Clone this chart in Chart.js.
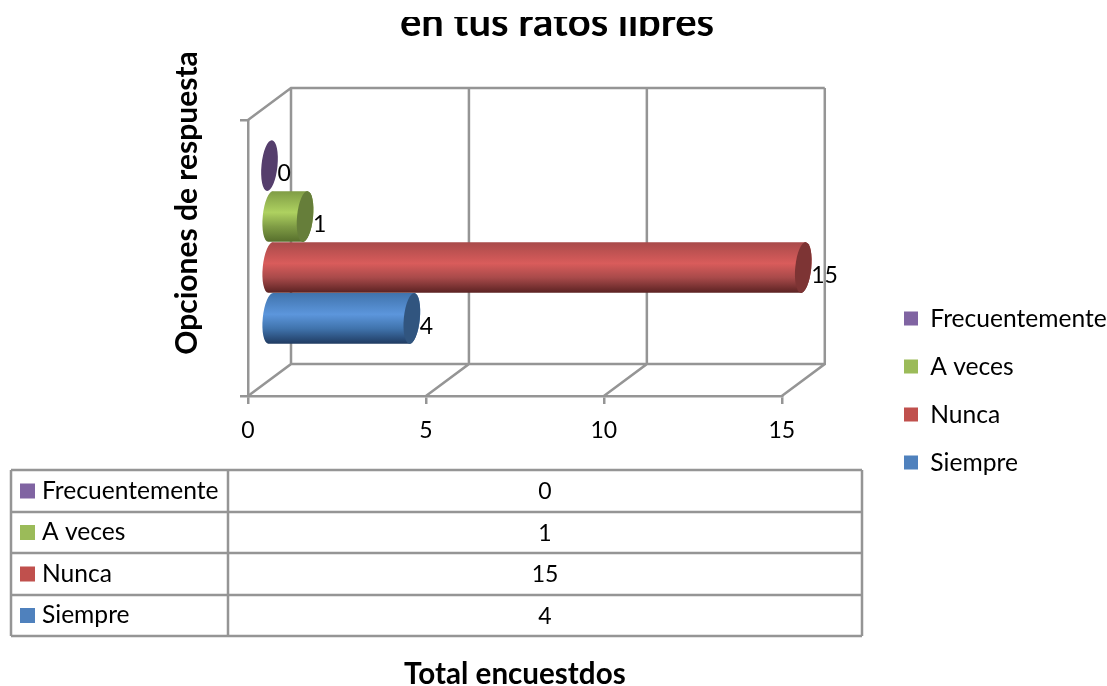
<!DOCTYPE html>
<html>
<head>
<meta charset="utf-8">
<style>
  html, body { margin: 0; padding: 0; background: #fff; overflow: hidden; }
  #wrap { position: relative; width: 1107px; height: 686px; }
</style>
<script src="https://cdn.jsdelivr.net/npm/chart.js@4/dist/chart.umd.min.js"></script>
</head>
<body>
<div id="wrap"><canvas id="chart" width="1107" height="686"></canvas></div>
<script>
const categories = ['Frecuentemente', 'A veces', 'Nunca', 'Siempre'];
const values = [0, 1, 15, 4];
const xTicks = [0, 5, 10, 15];
const chartTitle = 'en tus ratos libres';
const yTitle = 'Opciones de respuesta';
const xTitle = 'Total encuestdos';

const fontName = "Lato, 'Open Sans', sans-serif";
const grey = '#959595';
const lineW = 2.5;
const depth = { x: 43, y: -32 };   // back wall offset from the front plane

// legend colour, gradient stops (top, light, bottom), end cap
const colors = [
  { base: '#8064a2', top: '#5f4a7a', mid: '#8f70b5', low: '#3f3052', cap: '#553e6c' },
  { base: '#9bbb59', top: '#7f9c45', mid: '#aed160', low: '#566e2c', cap: '#667e3a' },
  { base: '#c0504d', top: '#a84a4a', mid: '#d95c5b', low: '#5a2222', cap: '#7d3434' },
  { base: '#4f81bd', top: '#4073ac', mid: '#5c96dc', low: '#1f3a60', cap: '#31557f' }
];

// 3D frame behind the bars
const framePlugin = {
  id: 'frame',
  beforeDatasetsDraw(chart) {
    const { ctx, scales: { x }, chartArea: a } = chart;
    const bx = a.left + depth.x, by = a.bottom + depth.y, ty = a.top + depth.y;
    ctx.save();
    ctx.strokeStyle = grey;
    ctx.lineWidth = lineW;
    ctx.beginPath();
    ctx.moveTo(a.left, a.top); ctx.lineTo(bx, ty);
    ctx.lineTo(x.getPixelForValue(15) + depth.x, ty);
    ctx.moveTo(bx, by); ctx.lineTo(x.getPixelForValue(15) + depth.x, by);
    xTicks.forEach(t => {
      const px = x.getPixelForValue(t);
      ctx.moveTo(px, a.bottom); ctx.lineTo(px + depth.x, by);
      ctx.lineTo(px + depth.x, ty);
    });
    ctx.stroke();
    ctx.restore();
  }
};

// Draws each bar element as a cylinder, half way into the depth
const cylinderPlugin = {
  id: 'cylinder',
  beforeDatasetDraw(chart, args) {
    const { ctx } = chart;
    const c = colors[args.index];
    args.meta.data.forEach(bar => {
      const x0 = bar.base + depth.x / 2;
      const x1 = bar.x + depth.x / 2;
      const cy = bar.y + depth.y / 2;
      const ry = bar.height / 2;
      const rx = 8, tilt = 0.1;
      if (x1 > x0) {
        const g = ctx.createLinearGradient(0, cy - ry, 0, cy + ry);
        g.addColorStop(0, c.top);
        g.addColorStop(0.42, c.mid);
        g.addColorStop(0.7, c.top);
        g.addColorStop(1, c.low);
        ctx.fillStyle = g;
        ctx.beginPath();
        ctx.ellipse(x0, cy, rx, ry, tilt, Math.PI / 2, Math.PI * 1.5);
        ctx.ellipse(x1, cy, rx, ry, tilt, -Math.PI / 2, Math.PI / 2);
        ctx.closePath();
        ctx.fill();
      }
      ctx.fillStyle = c.cap;
      ctx.beginPath();
      ctx.ellipse(x1, cy, rx, ry, tilt, 0, Math.PI * 2);
      ctx.fill();
    });
    return false;
  }
};

const labelPlugin = {
  id: 'labels',
  afterDatasetsDraw(chart) {
    const { ctx } = chart;
    ctx.save();
    ctx.fillStyle = '#000';
    ctx.font = '23px ' + fontName;
    ctx.textBaseline = 'middle';
    chart.data.datasets.forEach((ds, i) => {
      const bar = chart.getDatasetMeta(i).data[0];
      ctx.fillText(String(ds.data[0]), bar.x + depth.x / 2 + 8, bar.y + depth.y / 2 + 8);
    });
    ctx.restore();
  }
};

// Data table under the chart and the rotated axis title
const tablePlugin = {
  id: 'table',
  afterDraw(chart) {
    const { ctx } = chart;
    const rows = [470, 512, 553, 595, 636];
    ctx.save();
    // the source picture is cropped through the title
    ctx.fillStyle = '#fff';
    ctx.fillRect(0, 0, chart.width, 17);
    ctx.strokeStyle = grey;
    ctx.lineWidth = lineW;
    ctx.beginPath();
    rows.forEach(y => { ctx.moveTo(11, y); ctx.lineTo(862, y); });
    [11, 228, 862].forEach(x => { ctx.moveTo(x, 470); ctx.lineTo(x, 636); });
    ctx.stroke();
    ctx.textBaseline = 'middle';
    categories.forEach((name, i) => {
      const mid = (rows[i] + rows[i + 1]) / 2;
      ctx.fillStyle = colors[i].base;
      ctx.fillRect(20, mid - 7.5, 15, 15);
      ctx.fillStyle = '#000';
      ctx.textAlign = 'left';
      ctx.font = '24.6px ' + fontName;
      ctx.fillText(name, 42, mid);
      ctx.textAlign = 'center';
      ctx.font = '23px ' + fontName;
      ctx.fillText(String(values[i]), 545, mid + 1);
    });
    ctx.translate(187, 203);
    ctx.rotate(-Math.PI / 2);
    ctx.font = 'bold 30px ' + fontName;
    ctx.textAlign = 'center';
    ctx.fillText(yTitle, 0, 0);
    ctx.restore();
  }
};

// Moves the legend down beside the table, away from the plot centre
const legendPlugin = {
  id: 'legendPlace',
  afterLayout(chart) {
    const lg = chart.legend;
    const w = lg.width, h = lg.height;
    lg.left = 904 - lg.options.labels.padding;
    lg.right = lg.left + w;
    lg.top = 276 - lg.options.labels.padding;
    lg.bottom = lg.top + h;
  }
};

new Chart(document.getElementById('chart'), {
  type: 'bar',
  data: {
    labels: [''],
    datasets: categories.map((name, i) => ({
      label: name,
      data: [values[i]],
      backgroundColor: colors[i].base,
      barPercentage: 1,
      categoryPercentage: 0.739
    }))
  },
  plugins: [framePlugin, cylinderPlugin, labelPlugin, tablePlugin, legendPlugin],
  options: {
    indexAxis: 'y',
    responsive: false,
    animation: false,
    layout: { padding: { top: 0, left: 7, right: 0, bottom: 0 } },
    plugins: {
      tooltip: { enabled: false },
      title: {
        display: true,
        text: chartTitle,
        color: '#000',
        font: { family: fontName, size: 40, weight: 'bold' },
        padding: { top: -1, bottom: 73 }
      },
      legend: {
        position: 'right',
        fullSize: false,
        maxWidth: 300,
        labels: {
          color: '#000',
          font: { family: fontName, size: 24.6 },
          boxWidth: 14,
          boxHeight: 14,
          padding: 23.4
        }
      }
    },
    scales: {
      x: {
        type: 'linear',
        min: 0,
        max: 15,
        afterBuildTicks: s => { s.ticks = xTicks.map(v => ({ value: v })); },
        afterFit: s => { s.height = 686 - 396; },
        border: { color: grey, width: lineW },
        grid: { drawOnChartArea: false, color: grey, lineWidth: lineW, tickLength: 8 },
        ticks: { color: '#000', font: { family: fontName, size: 23 }, padding: 13, maxRotation: 0 },
        title: {
          display: true,
          text: xTitle,
          color: '#000',
          font: { family: fontName, size: 29.6, weight: 'bold' },
          padding: { bottom: -6 }
        }
      },
      y: {
        type: 'category',
        afterFit: s => { s.width = 241; },
        border: { color: grey, width: lineW },
        grid: { offset: true, drawOnChartArea: false, color: grey, lineWidth: lineW, tickLength: 8 },
        ticks: { display: false }
      },
      // empty axis, only keeps the gap between plot and legend
      spacer: {
        type: 'linear',
        axis: 'y',
        position: 'right',
        afterFit: s => { s.width = 89; },
        border: { display: false },
        grid: { display: false },
        ticks: { display: false }
      }
    }
  }
});
</script>
</body>
</html>
